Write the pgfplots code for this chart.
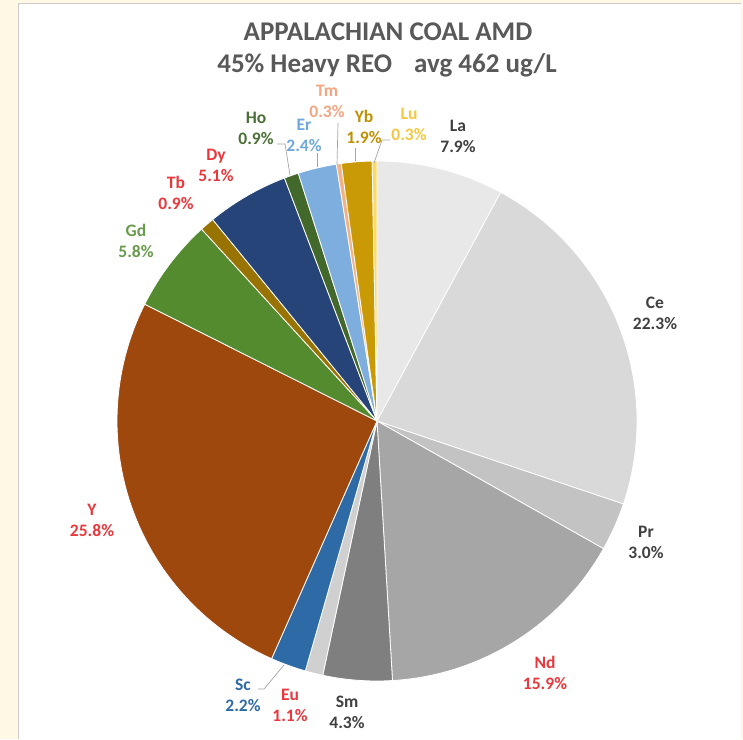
\documentclass[border=0pt]{standalone}
\usepackage{pgfplots}
\pgfplotsset{compat=1.18}
\usepackage{pgfplotstable}
\usepackage{fontspec}
\setmainfont{Carlito}
\definecolor{cLa}{HTML}{E8E8E8}
\definecolor{cCe}{HTML}{D9D9D9}
\definecolor{cPr}{HTML}{C3C3C3}
\definecolor{cNd}{HTML}{A6A6A6}
\definecolor{cSm}{HTML}{7F7F7F}
\definecolor{cEu}{HTML}{D0D0D0}
\definecolor{cSc}{HTML}{2E6BA6}
\definecolor{cY}{HTML}{9E480E}
\definecolor{cGd}{HTML}{558B2F}
\definecolor{cTb}{HTML}{997300}
\definecolor{cDy}{HTML}{264478}
\definecolor{cHo}{HTML}{43682B}
\definecolor{cEr}{HTML}{7DAEDD}
\definecolor{cTm}{HTML}{F4B183}
\definecolor{cYb}{HTML}{C99A06}
\definecolor{cLu}{HTML}{FFD966}
\definecolor{tDark}{HTML}{404040}
\definecolor{tRed}{HTML}{E8383D}
\definecolor{tBlue}{HTML}{2E6BA6}
\definecolor{tGreen}{HTML}{6A9A4C}
\definecolor{tHo}{HTML}{4A7035}
\definecolor{tEr}{HTML}{6FA8DC}
\definecolor{tTm}{HTML}{F4A582}
\definecolor{tYb}{HTML}{BF9000}
\definecolor{tLu}{HTML}{F5C842}
\definecolor{cTitle}{HTML}{595959}
\definecolor{cBg}{HTML}{FEF8E4}
\definecolor{cLead}{HTML}{A6A6A6}

% element, share of REO (%), slice colour
\pgfplotstableread{
name pct col
La 7.9 cLa
Ce 22.3 cCe
Pr 3.0 cPr
Nd 15.9 cNd
Sm 4.3 cSm
Eu 1.1 cEu
Sc 2.2 cSc
Y 25.8 cY
Gd 5.8 cGd
Tb 0.9 cTb
Dy 5.1 cDy
Ho 0.9 cHo
Er 2.4 cEr
Tm 0.3 cTm
Yb 1.9 cYb
Lu 0.3 cLu
}\piedata

\begin{document}
\begin{tikzpicture}
\begin{axis}[scale only axis, width=743pt, height=739pt,
  xmin=0, xmax=743, ymin=0, ymax=739, y dir=reverse,
  hide axis, clip=false]
\fill[cBg] (axis cs:0,0) rectangle (axis cs:743,739);
\fill[white] (axis cs:18,3) rectangle (axis cs:741,739);
\draw[black!20, line width=0.8pt] (axis cs:18,739) -- (axis cs:18,3) -- (axis cs:741,3);
% total
\gdef\tot{0}
\pgfplotsinvokeforeach{0,...,15}{%
  \pgfplotstablegetelem{#1}{pct}\of\piedata
  \pgfmathsetmacro\nt{\tot+\pgfplotsretval}\xdef\tot{\nt}%
}
\gdef\cum{0}
\pgfplotsinvokeforeach{0,...,15}{%
  \pgfplotstablegetelem{#1}{pct}\of\piedata \let\pp\pgfplotsretval
  \pgfplotstablegetelem{#1}{col}\of\piedata \let\cc\pgfplotsretval
  \pgfmathsetmacro\aa{90-360*(\cum/\tot)}%
  \pgfmathsetmacro\nc{\cum+\pp}%
  \pgfmathsetmacro\bb{90-360*(\nc/\tot)}%
  \xdef\cum{\nc}%
  \edef\tmp{\noexpand\fill[fill=\cc, draw=white, line width=0.8pt] (axis cs:377,421) -- ++(\aa:260pt) arc[start angle=\aa, end angle=\bb, radius=260pt] -- cycle;}%
  \tmp
}
% title
\node[font=\fontsize{27}{30}\selectfont\bfseries, text=cTitle] at (axis cs:388,32) {APPALACHIAN COAL AMD};
\node[font=\fontsize{27}{30}\selectfont\bfseries, text=cTitle] at (axis cs:387,65) {45\% Heavy REO\hspace{22pt}avg 462 ug/L};
% leader lines
\begin{scope}[cLead, line width=0.7pt]
\draw (axis cs:277,144) -- (axis cs:285,144) -- (axis cs:290,175);
\draw (axis cs:317,153) -- (axis cs:317,167);
\draw (axis cs:338,123) -- (axis cs:337,165);
\draw (axis cs:355,148) -- (axis cs:355,161);
\draw (axis cs:390,140) -- (axis cs:382,140) -- (axis cs:374,163);
\draw (axis cs:258,689) -- (axis cs:264,689) -- (axis cs:284,665);
\end{scope}
% labels
\tikzset{lab/.style={align=center, inner sep=1pt, font=\fontsize{17.5}{21}\selectfont\bfseries}}
\node[lab, text=tDark] at (axis cs:458,136) {La\\7.9\%};
\node[lab, text=tDark] at (axis cs:655,313) {Ce\\22.3\%};
\node[lab, text=tDark] at (axis cs:646,542) {Pr\\3.0\%};
\node[lab, text=tRed] at (axis cs:545,673) {Nd\\15.9\%};
\node[lab, text=tDark] at (axis cs:347,712) {Sm\\4.3\%};
\node[lab, text=tRed] at (axis cs:290,705) {Eu\\1.1\%};
\node[lab, text=tBlue] at (axis cs:243,695) {Sc\\2.2\%};
\node[lab, text=tRed] at (axis cs:92,520) {Y\\25.8\%};
\node[lab, text=tGreen] at (axis cs:136,241) {Gd\\5.8\%};
\node[lab, text=tRed] at (axis cs:176,193) {Tb\\0.9\%};
\node[lab, text=tRed] at (axis cs:216,165) {Dy\\5.1\%};
\node[lab, text=tHo] at (axis cs:256,128) {Ho\\0.9\%};
\node[lab, text=tEr] at (axis cs:304,135) {Er\\2.4\%};
\node[lab, text=tTm] at (axis cs:327,101) {Tm\\0.3\%};
\node[lab, text=tYb] at (axis cs:364,127) {Yb\\1.9\%};
\node[lab, text=tLu] at (axis cs:409,124) {Lu\\0.3\%};
\end{axis}
\end{tikzpicture}
\end{document}
